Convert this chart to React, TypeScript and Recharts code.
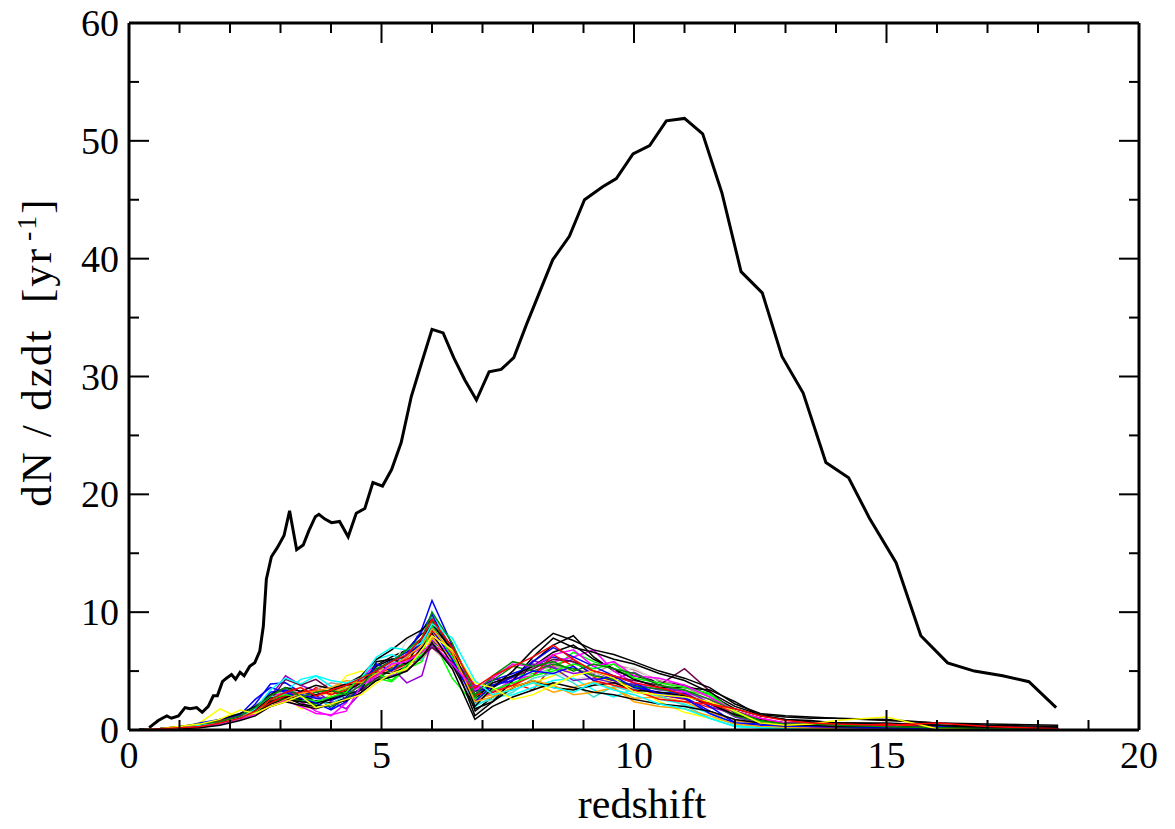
import React from 'react';
import { LineChart, Line, XAxis, YAxis } from 'recharts';

// Main (total) curve
const MAIN_Z = [0.4, 0.58, 0.66, 0.75, 0.84, 0.98, 1.11, 1.21, 1.34, 1.45, 1.57, 1.67, 1.75, 1.85, 1.93, 2.03, 2.11, 2.2, 2.28, 2.39, 2.49, 2.59, 2.66, 2.72, 2.82, 2.94, 3.07, 3.18, 3.32, 3.45, 3.56, 3.69, 3.76, 3.88, 4.01, 4.17, 4.34, 4.5, 4.67, 4.83, 5.02, 5.2, 5.39, 5.59, 5.79, 6.0, 6.22, 6.43, 6.65, 6.88, 7.13, 7.37, 7.62, 7.87, 8.39, 8.72, 9.02, 9.38, 9.65, 9.98, 10.31, 10.64, 11.0, 11.36, 11.74, 12.12, 12.54, 12.93, 13.35, 13.8, 14.25, 14.66, 15.19, 15.68, 16.21, 16.74, 17.3, 17.82, 18.36];
const MAIN_RATE = [0.2, 0.8, 1.0, 1.2, 1.0, 1.2, 1.9, 1.8, 1.9, 1.5, 2.0, 2.9, 2.9, 4.1, 4.4, 4.7, 4.3, 4.9, 4.6, 5.4, 5.7, 6.7, 8.8, 12.8, 14.7, 15.5, 16.5, 18.6, 15.3, 15.7, 16.9, 18.1, 18.3, 17.9, 17.6, 17.7, 16.4, 18.4, 18.8, 21.0, 20.7, 22.1, 24.4, 28.3, 31.1, 34.0, 33.7, 31.6, 29.7, 28.0, 30.4, 30.6, 31.6, 34.4, 39.9, 41.9, 45.0, 46.1, 46.8, 48.9, 49.6, 51.7, 51.9, 50.6, 45.6, 38.9, 37.1, 31.7, 28.6, 22.7, 21.4, 18.0, 14.2, 8.0, 5.7, 5.0, 4.6, 4.1, 1.9];

// Redshift grid of the individual realisations
const Z_GRID = [0.2, 0.6, 1.0, 1.4, 1.8, 2.2, 2.5, 2.8, 3.1, 3.4, 3.7, 4.0, 4.3, 4.6, 4.9, 5.2, 5.5, 5.8, 6.0, 6.4, 6.85, 7.2, 7.6, 8.0, 8.4, 8.8, 9.2, 9.6, 10.0, 10.5, 11.0, 11.5, 12.0, 12.5, 13.0, 13.5, 14.0, 15.0, 16.0, 17.0, 18.4];

const R01 = [0.1,0.1,0.2,0.5,0.8,1.0,1.5,2.4,3.3,2.9,2.5,2.3,2.7,3.5,5.5,6.2,6.8,8.2,8.5,7.2,1.6,2.8,3.5,5.8,7.2,8.0,6.2,5.0,4.6,4.1,3.8,3.0,1.8,1.2,0.9,0.8,0.6,0.5,0.4,0.3,0.2];
const R02 = [0,0.1,0.2,0.3,0.6,1.1,1.6,2.5,3.0,2.6,3.6,3.1,3.2,3.8,4.9,5.0,5.6,6.0,7.3,6.2,3.2,4.4,4.0,3.4,5.5,6.0,4.5,4.2,3.6,3.0,2.6,1.9,1.6,1.0,0.5,0.3,0.3,0.3,0.2,0.1,0.05];
const R03 = [0.05,0.1,0.3,0.4,0.9,1.3,1.8,3.0,3.4,2.6,2.2,3.0,3.5,4.0,4.4,4.1,5.2,5.8,7.8,4.4,2.1,3.6,4.6,4.8,5.2,6.6,5.8,5.2,4.4,4.0,3.3,3.0,1.5,0.8,0.6,0.5,0.4,0.3,0.2,0.05,0];
const R04 = [0,0.05,0.1,0.3,0.5,1.0,2.2,3.9,4.0,3.2,3.0,1.8,2.8,4.1,4.7,5.6,6.4,8.6,11.0,7.2,3.5,4.2,4.8,5.4,6.2,5.8,4.7,4.2,3.8,3.1,2.8,1.6,0.8,0.6,0.4,0.4,0.3,0.4,0.3,0.2,0.1];
const R05 = [0,0.1,0.2,0.6,1.8,1.0,1.2,2.2,2.8,1.8,2.0,3.0,4.6,5.0,4.4,5.4,6.0,6.8,9.3,6.8,3.2,3.0,3.4,4.0,4.6,5.2,4.6,4.0,3.6,2.4,1.5,1.0,0.6,0.3,0.1,0.05,0.05,0.5,0.1,0,0];
const R06 = [0.05,0.1,0.2,0.4,0.6,1.0,1.8,2.6,3.5,3.1,3.4,4.0,3.8,3.6,4.6,5.2,5.9,6.0,7.0,5.4,2.3,3.4,3.8,5.0,5.4,5.2,4.8,5.6,5.1,4.2,3.6,2.8,1.4,1.0,0.6,0.4,0.3,0.2,0.1,0.05,0];
const R07 = [0,0.05,0.1,0.2,0.5,0.9,1.4,2.3,3.0,2.2,2.6,2.5,3.1,3.9,4.6,5.3,7.6,8.3,8.9,6.4,1.3,2.6,3.4,5.1,4.9,4.3,4.6,5.0,5.3,4.0,3.3,2.2,1.2,0.7,0.3,0.2,0.2,0.1,0.05,0,0];
const R08 = [0,0.1,0.2,0.3,0.6,1.2,1.6,2.8,4.6,3.8,3.3,2.4,1.8,3.2,4.8,5.3,4.0,4.6,7.6,6.2,3.8,3.2,4.2,5.9,5.3,4.8,5.0,4.3,4.9,3.8,3.2,2.0,1.3,0.8,0.5,0.3,0.2,0.1,0.05,0.05,0];
const R09 = [0,0.05,0.1,0.3,0.4,1.1,1.5,2.6,3.3,4.3,4.6,3.7,3.6,4.0,6.0,6.4,5.8,6.0,10.0,6.8,2.0,2.8,3.0,3.6,4.2,4.4,3.4,2.8,3.5,2.6,2.2,1.4,0.4,0.2,0.1,0.05,0.05,0,0,0,0];
const R10 = [0,0.1,0.2,0.4,0.7,1.0,1.6,2.9,3.1,2.4,1.6,1.2,2.3,4.4,5.6,5.1,6.2,7.0,8.0,6.0,2.4,3.2,4.3,4.6,5.8,6.2,6.8,5.0,4.0,3.6,3.2,2.6,1.2,0.8,0.4,0.3,0.2,0.1,0.05,0,0];
const R11 = [0,0.05,0.1,0.2,0.5,1.1,1.9,2.4,2.9,2.7,2.9,3.2,3.6,4.2,5.2,5.0,5.0,6.2,7.8,6.0,2.6,3.0,3.8,4.0,3.2,3.6,4.1,3.5,2.7,2.8,2.4,1.5,0.8,0.5,0.3,0.2,0.1,0.05,0,0,0];
const R12 = [0,0.1,0.2,0.3,0.6,1.3,1.7,2.2,3.2,3.0,2.8,2.7,3.1,4.3,4.4,4.6,5.0,6.3,7.2,5.5,3.0,4.0,4.5,5.6,5.3,4.2,4.4,4.0,3.9,3.4,3.4,2.3,1.1,0.6,0.4,0.3,0.2,0.1,0.05,0.05,0.02];
const R13 = [0,0.05,0.1,0.3,0.5,1.0,1.5,2.5,4.3,3.8,4.3,3.4,2.6,3.4,4.4,5.1,5.7,6.3,7.0,5.8,2.9,3.8,4.5,5.2,6.0,5.8,5.0,4.5,4.2,3.8,5.2,3.3,1.4,0.9,0.6,0.4,0.3,0.3,0.2,0.1,0.05];
const R14 = [0,0.05,0.2,0.4,0.8,1.4,1.7,2.8,3.0,2.5,2.4,2.2,3.0,4.3,5.0,5.6,6.2,7.6,9.6,6.5,2.2,2.6,3.2,4.4,4.8,4.0,2.8,3.7,3.2,2.9,2.1,1.0,0.3,0.2,0.1,0.05,0.05,0,0,0,0];
const R15 = [0,0.1,0.2,0.4,0.7,1.1,1.6,2.3,2.7,2.5,2.1,2.0,2.6,3.6,4.2,5.2,5.7,6.6,9.2,6.6,2.8,4.2,5.4,5.0,5.6,5.2,4.6,4.3,3.7,3.5,3.0,2.3,1.2,0.7,0.5,0.4,0.3,0.2,0.1,0.05,0];
const R16 = [0.05,0.1,0.2,0.4,0.8,1.2,1.7,2.7,2.9,2.6,3.0,3.3,3.8,4.0,5.4,6.0,6.2,7.4,8.8,6.3,1.2,2.4,4.2,6.2,7.8,7.0,6.6,6.0,5.6,4.8,4.2,3.2,2.0,1.3,1.1,1.0,1.0,0.8,0.6,0.4,0.3];
const R17 = [0,0.1,0.2,0.3,0.6,1.1,1.9,3.2,3.4,3.0,2.7,2.5,3.0,4.5,5.1,5.9,6.6,8.4,9.8,6.4,3.3,3.6,4.5,5.8,7.0,6.2,5.4,4.6,3.6,3.2,3.1,2.0,0.6,0.5,0.4,0.6,0.4,0.3,0.3,0.3,0.05];
const R18 = [0,0.1,0.2,0.4,0.7,1.0,1.5,2.4,2.8,2.2,2.0,2.7,3.3,4.0,4.9,4.8,5.4,7.0,8.2,5.6,1.8,2.4,3.6,4.2,3.6,3.4,3.8,4.0,3.4,3.2,2.9,2.2,1.3,0.9,0.6,0.6,0.6,0.5,0.4,0.3,0.1];
const R19 = [0,0.05,0.1,0.3,0.6,0.9,1.4,2.2,2.6,2.4,2.3,2.6,3.0,3.4,5.8,6.0,5.6,7.8,9.0,6.8,2.6,4.0,4.6,5.4,6.6,7.2,6.0,5.2,4.3,3.6,3.6,3.4,2.4,1.2,0.9,0.7,0.6,0.6,0.4,0.2,0.05];
const R20 = [0,0.1,0.3,0.5,0.8,1.2,1.6,2.3,2.9,3.2,3.4,3.0,3.4,4.2,4.6,5.4,6.0,6.6,8.4,6.4,3.0,3.2,3.8,4.6,6.4,5.4,4.2,3.8,3.4,2.6,2.4,2.2,1.6,1.0,0.5,0.3,0.3,0.5,0.2,0.05,0];
const R21 = [0,0.05,0.2,0.3,0.6,1.0,1.5,2.6,3.0,2.8,2.4,2.8,3.2,4.6,4.8,4.2,5.5,6.4,8.8,6.2,2.6,3.4,4.0,4.6,5.0,5.6,5.2,5.6,4.4,4.0,3.6,3.1,1.5,0.7,0.5,0.5,0.4,0.3,0.1,0.05,0];
const R22 = [0,0.1,0.2,0.6,0.9,1.3,2.6,3.6,3.2,2.7,2.3,1.7,2.4,3.6,5.6,5.0,6.4,7.4,8.6,6.0,2.4,3.8,4.2,5.0,4.8,5.4,4.2,4.6,4.0,3.0,2.7,1.4,0.6,0.4,0.3,0.3,0.3,0.2,0.1,0.1,0.05];
const R23 = [0,0.1,0.2,0.4,0.9,1.4,2.0,3.0,3.6,3.3,3.8,3.5,3.9,4.6,6.0,6.8,7.8,8.5,9.4,7.0,2.0,3.6,5.0,6.8,8.2,7.6,6.8,6.4,5.8,5.0,4.4,3.6,2.2,1.4,1.2,1.1,1.0,0.9,0.6,0.5,0.4];
const R24 = [0,0.05,0.1,0.3,0.6,1.0,1.4,2.0,2.6,3.1,3.3,3.6,4.2,4.0,4.8,5.4,6.2,7.2,8.6,6.6,2.4,2.8,3.6,4.2,3.8,3.0,3.2,3.6,2.4,2.0,1.8,1.2,0.5,0.3,0.2,0.1,0.05,0,0,0,0];
const R25 = [0,0.1,0.2,0.3,0.5,0.9,1.3,2.0,2.5,2.0,1.4,1.3,1.6,3.8,4.6,5.6,5.8,6.6,7.4,5.6,3.4,4.4,5.6,5.4,6.4,6.8,5.4,5.8,4.6,4.4,3.8,2.8,1.6,1.0,0.6,0.5,0.4,0.3,0.2,0.1,0.05];
const R26 = [0,0.05,0.1,0.2,0.4,0.8,1.2,2.0,2.4,2.1,1.8,2.2,2.5,3.2,4.2,4.5,5.0,6.2,7.4,5.2,0.9,2.0,2.8,3.4,4.0,3.6,3.2,3.0,2.6,2.2,2.0,1.6,0.9,0.6,0.4,0.4,0.3,0.3,0.2,0.2,0.1];
const R27 = [0,0.1,0.2,0.4,0.6,1.0,1.8,3.4,4.4,3.9,4.6,4.2,4.0,4.4,6.2,7.0,6.8,7.4,9.0,7.8,4.2,3.0,3.4,4.0,3.6,3.2,4.0,3.4,3.0,2.2,1.8,1.0,0.3,0.2,0.1,0.05,0,0,0,0,0];
const R28 = [0,0.1,0.3,0.5,0.7,1.2,1.9,2.9,3.6,2.8,3.2,3.4,3.0,3.8,5.2,5.8,6.8,7.8,10.0,7.4,3.0,4.6,5.8,5.4,5.8,5.0,5.6,5.2,4.8,3.8,3.4,2.6,1.6,0.8,0.5,0.5,0.4,0.3,0.2,0.1,0.05];
const R29 = [0,0.1,0.3,0.5,0.9,1.7,1.4,2.0,2.4,2.9,1.9,2.2,2.6,3.0,4.0,4.8,5.2,6.8,8.0,6.8,4.0,3.6,2.6,3.0,3.8,4.6,5.0,4.4,3.2,3.0,2.8,2.4,1.6,0.6,0.4,0.5,0.8,1.1,0.1,0,0];
const R30 = [0,0.1,0.2,0.3,0.6,1.0,1.6,2.6,3.2,3.6,2.9,3.4,3.8,4.4,5.0,5.8,6.4,7.8,9.4,7.0,3.6,4.6,5.4,6.2,7.2,6.0,5.0,4.6,4.0,3.6,3.0,2.2,1.8,1.2,0.8,0.6,0.5,0.4,0.6,0.3,0.1];

const REALISATIONS = [R01, R02, R03, R04, R05, R06, R07, R08, R09, R10, R11, R12, R13, R14, R15, R16, R17, R18, R19, R20, R21, R22, R23, R24, R25, R26, R27, R28, R29, R30];
const COLORS = ['#000000', '#ff0000', '#00ff00', '#0000ff', '#ffff00', '#bc8f8f', '#dcdcdc', '#9400d3', '#00ffff', '#ff00ff', '#ffa500', '#7221bc', '#670748', '#40e0d0', '#008b00', '#000000', '#0000ff', '#000000', '#000000', '#ff0000', '#00ff00', '#0000ff', '#000000', '#ffa500', '#ff00ff', '#000000', '#00ffff', '#008b00', '#ffff00', '#ff0000'];

const X_TICKS = [0,1,2,3,4,5,6,7,8,9,10,11,12,13,14,15,16,17,18,19,20];
const Y_TICKS = [0,5,10,15,20,25,30,35,40,45,50,55,60];

const FONT = 'Liberation Serif, Times New Roman, serif';
const FS = 38;

const mainData = MAIN_Z.map((z, i) => ({ z, v: MAIN_RATE[i] }));
const realData = REALISATIONS.map((r) => Z_GRID.map((z, i) => ({ z, v: r[i] })));

const BottomTick = (p: any) => {
  const v = p.payload.value;
  const major = v % 5 === 0;
  return (
    <g>
      <line x1={p.x} y1={p.y} x2={p.x} y2={p.y - (major ? 20 : 10)} stroke="#000" strokeWidth={2} />
      {major && (
        <text x={p.x} y={p.y + 38} textAnchor="middle" fontFamily={FONT} fontSize={FS} fill="#000">{v}</text>
      )}
    </g>
  );
};
const TopTick = (p: any) => {
  const v = p.payload.value;
  const major = v % 5 === 0;
  return <line x1={p.x} y1={p.y} x2={p.x} y2={p.y + (major ? 20 : 10)} stroke="#000" strokeWidth={2} />;
};
const LeftTick = (p: any) => {
  const v = p.payload.value;
  const major = v % 10 === 0;
  return (
    <g>
      <line x1={p.x} y1={p.y} x2={p.x + (major ? 20 : 10)} y2={p.y} stroke="#000" strokeWidth={2} />
      {major && (
        <text x={p.x - 10} y={p.y + 13} textAnchor="end" fontFamily={FONT} fontSize={FS} fill="#000">{v}</text>
      )}
    </g>
  );
};
const RightTick = (p: any) => {
  const v = p.payload.value;
  const major = v % 10 === 0;
  return <line x1={p.x} y1={p.y} x2={p.x - (major ? 20 : 10)} y2={p.y} stroke="#000" strokeWidth={2} />;
};

const YTitle = () => (
  <text transform="translate(51,352) rotate(-90)" textAnchor="middle" fontFamily={FONT} fontSize={43} letterSpacing={2} fill="#000" style={{ whiteSpace: 'pre' }}>
    dN / dzdt  [yr<tspan fontSize={28} dx={6} dy={-15}>-1</tspan><tspan dy={15}>]</tspan>
  </text>
);
const XTitle = () => (
  <text x={642} y={818} textAnchor="middle" fontFamily={FONT} fontSize={42} fill="#000">redshift</text>
);

export default function App() {
  const axisLine = { stroke: '#000', strokeWidth: 3 };
  return (
    <div style={{ margin: -8, width: 1175, height: 829 }}>
      <LineChart width={1175} height={829} margin={{ top: 22, right: 35, bottom: 0, left: 0 }}>
        <XAxis xAxisId="b" dataKey="z" type="number" domain={[0, 20]} ticks={X_TICKS} interval={0} allowDataOverflow
          axisLine={axisLine} tickLine={false} tickSize={0} tickMargin={0} tick={<BottomTick />} height={99}
          label={<XTitle />} />
        <XAxis xAxisId="t" orientation="top" dataKey="z" type="number" domain={[0, 20]} ticks={X_TICKS} interval={0} allowDataOverflow
          axisLine={axisLine} tickLine={false} tickSize={0} tickMargin={0} tick={<TopTick />} height={1} />
        <YAxis yAxisId="l" type="number" domain={[0, 60]} ticks={Y_TICKS} interval={0} allowDataOverflow
          axisLine={axisLine} tickLine={false} tickSize={0} tickMargin={0} tick={<LeftTick />} width={129}
          label={<YTitle />} />
        <YAxis yAxisId="r" orientation="right" type="number" domain={[0, 60]} ticks={Y_TICKS} interval={0} allowDataOverflow
          axisLine={axisLine} tickLine={false} tickSize={0} tickMargin={0} tick={<RightTick />} width={1} />
        {realData.map((d, i) => (
          <Line key={i} xAxisId="b" yAxisId="l" data={d} dataKey="v" type="linear" stroke={COLORS[i]} strokeWidth={1.5}
            dot={false} isAnimationActive={false} />
        ))}
        <Line xAxisId="b" yAxisId="l" data={mainData} dataKey="v" type="linear" stroke="#000" strokeWidth={3}
          dot={false} isAnimationActive={false} />
      </LineChart>
    </div>
  );
}
